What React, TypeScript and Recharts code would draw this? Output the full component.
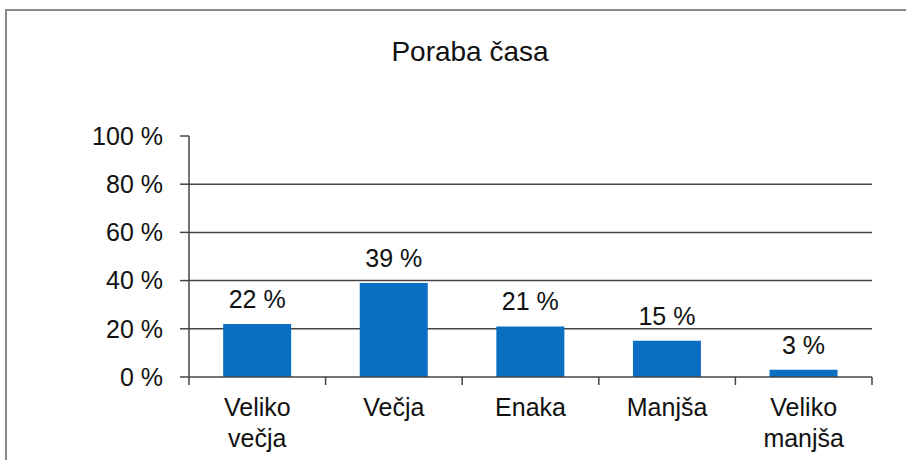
import React from 'react'
import { BarChart, Bar, XAxis, YAxis, CartesianGrid, LabelList } from 'recharts'

const title = 'Poraba časa'
const categories = ['Veliko večja', 'Večja', 'Enaka', 'Manjša', 'Veliko manjša']
const values = [22, 39, 21, 15, 3]
const yTicks = [0, 20, 40, 60, 80, 100]
const gridValues = [20, 40, 60, 80]

const W = 906
const H = 460
const margin = { top: 136, right: 34, bottom: 0, left: 0 }
const yAxisWidth = 189
const xAxisHeight = 83
const band = (W - yAxisWidth - margin.right) / categories.length

const font = '"Liberation Sans", Arial, sans-serif'
const lineColor = '#444444'

const data = categories.map((name, i) => ({ name, value: values[i] }))

// category label, split on the space, plus the tick marks between categories
const XTick = ({ x, y, payload, index }: any) => {
  const lines = String(payload.value).split(' ')
  return (
    <g>
      <line x1={x - band / 2} x2={x - band / 2} y1={y} y2={y + 8} stroke={lineColor} strokeWidth={1.5} />
      {index === categories.length - 1 && (
        <line x1={x + band / 2} x2={x + band / 2} y1={y} y2={y + 8} stroke={lineColor} strokeWidth={1.5} />
      )}
      {lines.map((l: string, i: number) => (
        <text
          key={i}
          x={x}
          y={y + 39 + i * 31}
          textAnchor="middle"
          fontSize={25}
          fontFamily={font}
          fill="#111"
        >
          {l}
        </text>
      ))}
    </g>
  )
}

export default function App() {
  return (
    <div
      style={{
        position: 'absolute',
        left: 0,
        top: 0,
        width: W,
        height: H,
        overflow: 'hidden',
        background: '#fff',
      }}
    >
      <div
        style={{
          position: 'absolute',
          left: 5,
          top: 9,
          width: 1000,
          height: 1000,
          borderLeft: '2px solid #8a8a8a',
          borderTop: '2px solid #8a8a8a',
        }}
      />
      <div
        style={{
          position: 'absolute',
          left: 0,
          width: 940,
          top: 38,
          textAlign: 'center',
          fontFamily: font,
          fontSize: 28,
          lineHeight: '28px',
          color: '#111',
        }}
      >
        {title}
      </div>
      <div style={{ position: 'absolute', left: 0, top: 0 }}>
        <BarChart width={W} height={H} data={data} margin={margin} barCategoryGap="25%">
          <CartesianGrid
            horizontal
            vertical={false}
            horizontalValues={gridValues}
            stroke={lineColor}
            strokeWidth={1.5}
          />
          <XAxis
            dataKey="name"
            height={xAxisHeight}
            tickSize={0}
            tickMargin={0}
            tickLine={false}
            axisLine={{ stroke: lineColor, strokeWidth: 1.5 }}
            tick={<XTick />}
            interval={0}
          />
          <YAxis
            width={yAxisWidth}
            domain={[0, 100]}
            ticks={yTicks}
            interval={0}
            tickSize={9}
            tickMargin={17}
            tickFormatter={(v) => `${v} %`}
            tick={{ fontSize: 25, fontFamily: font, fill: '#111' }}
            tickLine={{ stroke: lineColor, strokeWidth: 1.5 }}
            axisLine={{ stroke: lineColor, strokeWidth: 1.5 }}
          />
          <Bar dataKey="value" fill="#0A6EC2" isAnimationActive={false}>
            <LabelList
              dataKey="value"
              position="top"
              offset={16}
              formatter={(v: any) => `${v} %`}
              style={{ fontSize: 25, fontFamily: font, fill: '#111' }}
            />
          </Bar>
        </BarChart>
      </div>
    </div>
  )
}
